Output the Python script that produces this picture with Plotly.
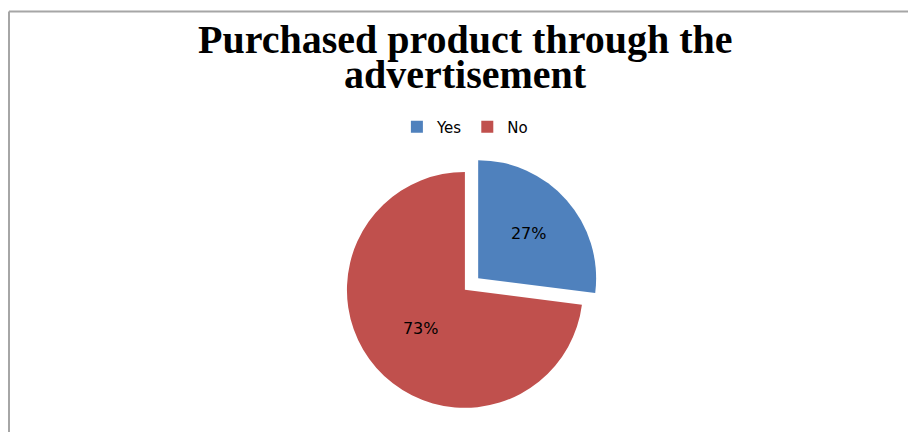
import plotly.graph_objects as go

# Data
categories = ["Yes", "No"]
values = [27, 73]
colors = ["#4F81BD", "#C0504D"]
title_lines = ["Purchased product through the", "advertisement"]

W, H = 908, 432

fig = go.Figure()
fig.add_trace(go.Pie(
    labels=categories,
    values=values,
    sort=False,
    direction="clockwise",
    rotation=0,
    pull=[0.15, 0],
    marker=dict(colors=colors, line=dict(color="white", width=0)),
    textinfo="percent",
    texttemplate="%{percent:.0%}",
    textposition="inside",
    insidetextorientation="horizontal",
    textfont=dict(family="DejaVu Sans", size=16, color="black"),
    domain=dict(x=[0.2, 0.824], y=[0.015, 0.643]),
    hoverinfo="label+percent",
))

title_font = dict(family="Liberation Serif", size=40, color="black")
fig.add_annotation(text="<b>%s</b>" % title_lines[0], x=0.513, y=1 - 40 / H,
                   xref="paper", yref="paper", xanchor="center", yanchor="middle",
                   showarrow=False, font=title_font)
fig.add_annotation(text="<b>%s</b>" % title_lines[1], x=0.513, y=1 - 74 / H,
                   xref="paper", yref="paper", xanchor="center", yanchor="middle",
                   showarrow=False, font=title_font)

# chart frame (top and left edges visible)
frame = dict(color="#a6a6a6", width=2)
fig.add_shape(type="line", xref="paper", yref="paper",
              x0=9 / W, x1=1.0, y0=1 - 11.5 / H, y1=1 - 11.5 / H, line=frame)
fig.add_shape(type="line", xref="paper", yref="paper",
              x0=9 / W, x1=9 / W, y0=0, y1=1 - 11.5 / H, line=frame)

fig.update_layout(
    width=W, height=H,
    margin=dict(l=0, r=0, t=0, b=0),
    paper_bgcolor="white",
    plot_bgcolor="white",
    showlegend=True,
    legend=dict(orientation="h", x=0.512, xanchor="center", y=1 - 127 / H, yanchor="middle",
                font=dict(family="DejaVu Sans", size=15, color="black"),
                itemwidth=30, tracegroupgap=0),
)

fig.write_html("out.html")
